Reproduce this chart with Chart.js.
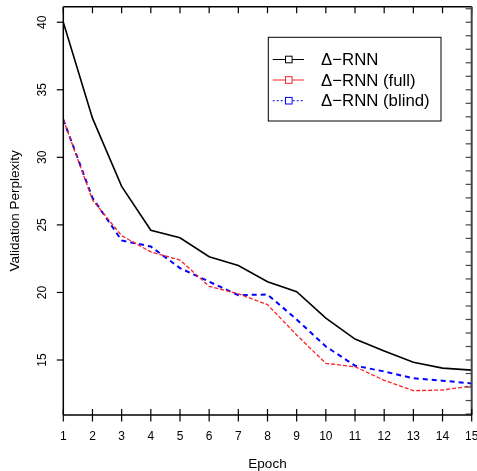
<!DOCTYPE html>
<html><head><meta charset="utf-8">
<script src="https://cdn.jsdelivr.net/npm/chart.js@4/dist/chart.umd.min.js"></script>
<style>html,body{margin:0;padding:0;background:#fff}canvas{display:block}</style>
</head><body>
<canvas id="c" width="477" height="471"></canvas>
<script>
const epochs = [1,2,3,4,5,6,7,8,9,10,11,12,13,14,15];
const deltaRNN = [40.0, 32.9, 27.85, 24.6, 24.05, 22.65, 22.0, 20.8, 20.05, 18.1, 16.55, 15.67, 14.83, 14.4, 14.25];
const deltaFull = [32.8, 26.85, 24.2, 23.0, 22.4, 20.45, 19.9, 19.1, 16.85, 14.75, 14.5, 13.5, 12.73, 12.78, 13.08];
const deltaBlind = [32.8, 27.0, 23.85, 23.4, 21.8, 20.8, 19.8, 19.85, 18.0, 16.0, 14.58, 14.15, 13.65, 13.47, 13.27];
const seriesNames = ['\u0394\u2212RNN', '\u0394\u2212RNN (full)', '\u0394\u2212RNN (blind)'];
const yTicks = [15, 20, 25, 30, 35, 40];
const xTicks = epochs;
const xTitle = 'Epoch';
const yTitle = 'Validation Perplexity';

const FONT = '"Liberation Sans", Arial, Helvetica, sans-serif';
const pts = arr => arr.map((v, i) => ({x: epochs[i], y: v}));

const axesPlugin = {
  id: 'rAxes',
  afterDraw(chart) {
    const ctx = chart.ctx, a = chart.chartArea;
    const xs = chart.scales.x, ys = chart.scales.y;
    ctx.save();
    // top axis
    ctx.strokeStyle = '#000'; ctx.lineWidth = 1.5;
    ctx.beginPath(); ctx.moveTo(a.left, a.top); ctx.lineTo(a.right, a.top); ctx.stroke();
    ctx.lineWidth = 1.2;
    xTicks.forEach(t => { const px = xs.getPixelForValue(t); ctx.beginPath(); ctx.moveTo(px, a.top); ctx.lineTo(px, a.top + 6.5); ctx.stroke(); });
    // right axis
    ctx.strokeStyle = '#444'; ctx.lineWidth = 2;
    ctx.beginPath(); ctx.moveTo(a.right, a.top); ctx.lineTo(a.right, a.bottom); ctx.stroke();
    ctx.lineWidth = 1.2;
    for (let v = Math.ceil(ys.min); v <= Math.floor(ys.max); v++) {
      const py = ys.getPixelForValue(v);
      ctx.beginPath(); ctx.moveTo(a.right, py); ctx.lineTo(a.right - 6, py); ctx.stroke();
    }
    // left axis
    ctx.strokeStyle = '#000'; ctx.lineWidth = 1.5;
    ctx.beginPath(); ctx.moveTo(a.left, a.top); ctx.lineTo(a.left, a.bottom); ctx.stroke();
    ctx.lineWidth = 1.2;
    ctx.fillStyle = '#000';
    ctx.font = '12px ' + FONT;
    ctx.textAlign = 'center'; ctx.textBaseline = 'middle';
    yTicks.forEach(t => {
      const py = ys.getPixelForValue(t);
      ctx.beginPath(); ctx.moveTo(a.left, py); ctx.lineTo(a.left - 6.5, py); ctx.stroke();
      ctx.save(); ctx.translate(42.5, py); ctx.rotate(-Math.PI / 2); ctx.fillText(String(t), 0, 0); ctx.restore();
    });
    // bottom axis
    ctx.lineWidth = 1.5;
    ctx.beginPath(); ctx.moveTo(a.left, a.bottom); ctx.lineTo(a.right, a.bottom); ctx.stroke();
    ctx.lineWidth = 1.2;
    xTicks.forEach(t => {
      const px = xs.getPixelForValue(t);
      ctx.beginPath(); ctx.moveTo(px, a.bottom - 6); ctx.lineTo(px, a.bottom + 6.5); ctx.stroke();
      ctx.fillText(String(t), px, 437);
    });
    // titles
    ctx.font = '13.5px ' + FONT;
    ctx.fillText(xTitle, (a.left + a.right) / 2, 464);
    ctx.save(); ctx.translate(15, (a.top + a.bottom) / 2); ctx.rotate(-Math.PI / 2); ctx.fillText(yTitle, 0, 0); ctx.restore();
    // legend
    const bx = 268.3, by = 37.3, bw = 172.7, bh = 83.7;
    ctx.fillStyle = '#fff'; ctx.fillRect(bx, by, bw, bh);
    ctx.strokeStyle = '#000'; ctx.lineWidth = 1;
    ctx.strokeRect(bx, by, bw, bh);
    const rows = [59.5, 80, 100.7];
    const legDash = [[], [], [2, 2]];
    chart.data.datasets.forEach((ds, i) => {
      const y = rows[i];
      ctx.strokeStyle = ds.borderColor; ctx.lineWidth = 1;
      ctx.setLineDash(legDash[i]);
      ctx.beginPath(); ctx.moveTo(272.7, y); ctx.lineTo(304, y); ctx.stroke();
      ctx.setLineDash([]);
      ctx.fillStyle = '#fff';
      ctx.fillRect(285.5, y - 3.3, 6.6, 6.6);
      ctx.strokeRect(285.5, y - 3.3, 6.6, 6.6);
      ctx.fillStyle = '#000';
      ctx.font = '16.8px ' + FONT;
      ctx.textAlign = 'left';
      ctx.fillText(ds.label, 321, y + 1);
    });
    ctx.restore();
  }
};

new Chart(document.getElementById('c'), {
  type: 'line',
  data: {
    datasets: [
      {label: seriesNames[0], data: pts(deltaRNN), borderColor: '#000', borderWidth: 1.6, pointRadius: 0, tension: 0, fill: false},
      {label: seriesNames[1], data: pts(deltaFull), borderColor: '#ff2020', borderWidth: 1.3, borderDash: [4, 2], pointRadius: 0, tension: 0, fill: false},
      {label: seriesNames[2], data: pts(deltaBlind), borderColor: '#0000ff', borderWidth: 2, borderDash: [5, 4], pointRadius: 0, tension: 0, fill: false}
    ]
  },
  options: {
    responsive: false,
    animation: false,
    layout: {padding: {left: 63.3, top: 6.7, right: 5.3, bottom: 56}},
    scales: {
      x: {type: 'linear', display: false, min: 1, max: 15},
      y: {type: 'linear', display: false, min: 10.93, max: 41.15}
    },
    plugins: {legend: {display: false}, tooltip: {enabled: false}}
  },
  plugins: [axesPlugin]
});
</script>
</body></html>
